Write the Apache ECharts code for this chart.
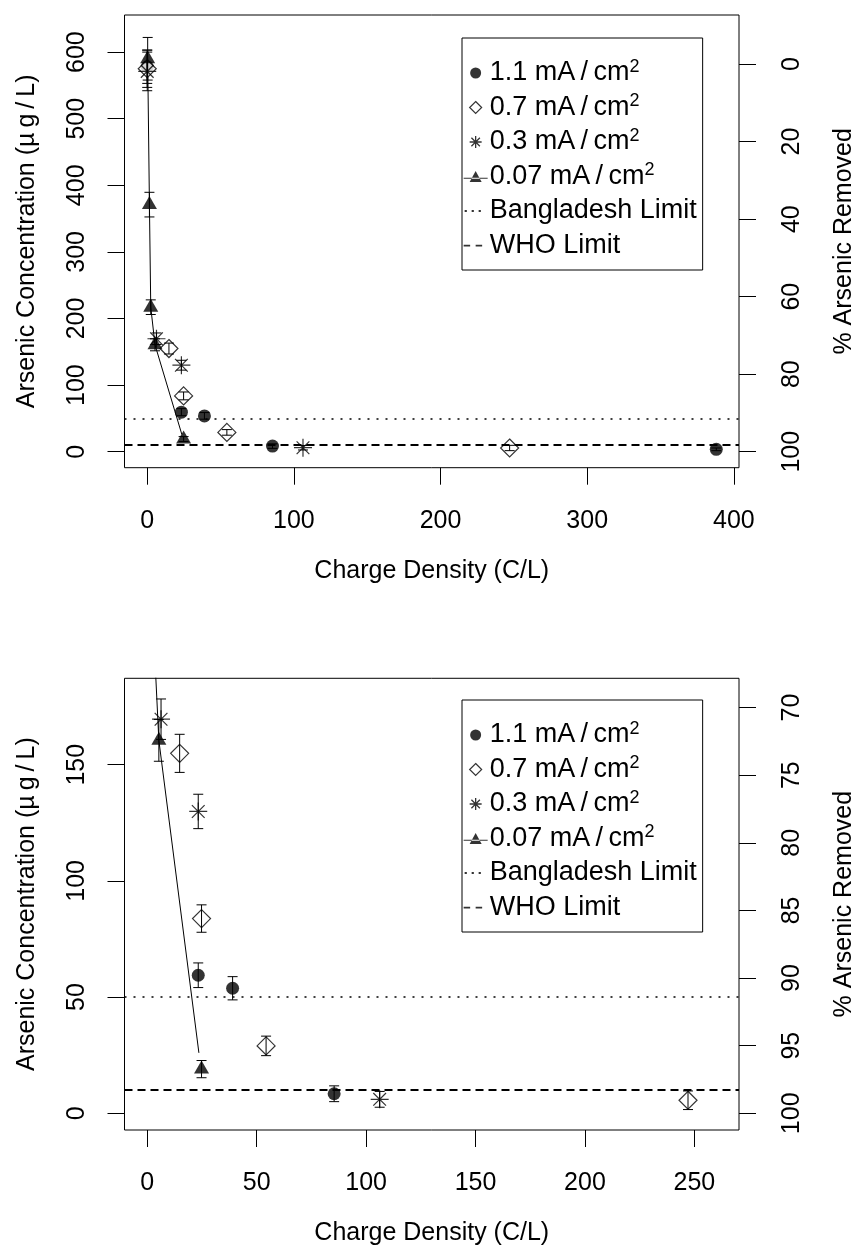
<!DOCTYPE html>
<html><head><meta charset="utf-8">
<script src="https://cdn.jsdelivr.net/npm/echarts@6/dist/echarts.min.js"></script>
<style>html,body{margin:0;padding:0;background:#fff}#c{width:857px;height:1250px}</style>
</head><body><div id="c"></div><script>
// ---------------- data ----------------
const S11 = '1.1 mA\u2009/\u2009cm²';
const S07 = '0.7 mA\u2009/\u2009cm²';
const S03 = '0.3 mA\u2009/\u2009cm²';
const S007 = '0.07 mA\u2009/\u2009cm²';

const cd11_x = [0, 23.3, 39.0, 85.4, 388];
const cd11_y = [578, 59.4, 53.8, 8.4, 3.6];
const cd11_e = [25, 5.3, 5.0, 3.4, 2.0];

const cd07_x = [0, 14.8, 24.8, 54.3, 247.1];
const cd07_y = [575, 154.9, 83.8, 29.0, 5.6];
const cd07_e = [28, 8.2, 5.9, 4.2, 4.0];

const cd03_x = [0, 6.3, 23.3, 106.2];
const cd03_y = [571, 169.6, 129.9, 6.0];
const cd03_e = [29, 8.7, 7.4, 3.4];

const cd007_x = [0.3, 1.5, 2.4, 5.3, 24.8];
const cd007_y = [590, 371, 217, 160.5, 19.0];
const cd007_e = [32, 18.5, 11, 9, 3.7];

const trend007_x = [0.3, 1.5, 2.4, 5.3, 23.6];
const trend007_y = [590, 371, 217, 160.5, 26];

const bangladeshLimit = 50;
const whoLimit = 10;
const initialConc = 582;   // reference for % removed axis

const topXTicks = [0, 100, 200, 300, 400];
const topYTicks = [0, 100, 200, 300, 400, 500, 600];
const topPctTicks = [0, 20, 40, 60, 80, 100];
const botXTicks = [0, 50, 100, 150, 200, 250];
const botYTicks = [0, 50, 100, 150];
const botPctTicks = [70, 75, 80, 85, 90, 95, 100];

// ---------------- styling ----------------
const FF = '"Liberation Sans", Arial, Helvetica, sans-serif';
const FS = 25;
const LFS = 27;
const ASTER = 'path://M0 -1.414L0 1.414M-1.414 0L1.414 0M-1 -1L1 1M-1 1L1 -1';
const B = 'M0 0M24 12';
const CIRC_LEG = 'path://' + B + 'M6.5 6A5.5 5.5 0 1 1 17.5 6A5.5 5.5 0 1 1 6.5 6Z';
const ASTER_LEG = 'path://' + B + 'M12 0L12 12M6 6L18 6M7.76 1.76L16.24 10.24M7.76 10.24L16.24 1.76';
const DIAM_LEG = 'path://' + B + 'M12 0L18 6L12 12L6 6Z';
const TRI_LEG = 'path://' + B + 'M0 7.2L24 7.2L24 8.3L0 8.3Z M6 11.5L18 11.5L12 0.6Z';
const DOT_LEG = 'path://' + B + 'M1 5L3.2 5L3.2 7L1 7Z M8 5L10.2 5L10.2 7L8 7Z M15 5L17.2 5L17.2 7L15 7Z';
const DASH_LEG = 'path://' + B + 'M0 5.2L6.5 5.2L6.5 7L0 7Z M12 5.2L18.5 5.2L18.5 7L12 7Z';

const grids = [
  {left: 124.5, top: 15, width: 614.5, height: 452.7, show: true, borderColor: '#000', borderWidth: 1, outerBoundsMode: 'none'},
  {left: 124.5, top: 678.3, width: 614.5, height: 451.7, show: true, borderColor: '#000', borderWidth: 1, outerBoundsMode: 'none'}
];

function xAxisDef(gi, min, max, ticks) {
  return {type: 'value', gridIndex: gi, min, max, position: 'bottom',
    name: 'Charge Density (C/L)', nameLocation: 'middle', nameGap: 91,
    nameTextStyle: {fontSize: FS, color: '#000', fontFamily: FF},
    axisLine: {show: false, onZero: false}, splitLine: {show: false},
    axisTick: {show: true, inside: false, length: 17, customValues: ticks, lineStyle: {color: '#000', width: 1}},
    axisLabel: {show: true, margin: 41, customValues: ticks, fontSize: FS, color: '#000', fontFamily: FF}
  };
}
function yAxisLeft(gi, min, max, ticks) {
  return {type: 'value', gridIndex: gi, min, max, position: 'left',
    name: 'Arsenic Concentration (\u00b5\u2009g\u2009/\u2009L)', nameLocation: 'middle', nameGap: 85, nameRotate: 90,
    nameTextStyle: {fontSize: FS, color: '#000', fontFamily: FF},
    axisLine: {show: false, onZero: false}, splitLine: {show: false},
    axisTick: {show: true, inside: false, length: 17, customValues: ticks, lineStyle: {color: '#000', width: 1}},
    axisLabel: {show: true, rotate: 90, margin: 35, customValues: ticks, fontSize: FS, color: '#000', fontFamily: FF}
  };
}
function yAxisRight(gi, min, max, pctTicks) {
  const vals = pctTicks.map(p => initialConc * (1 - p / 100));
  return {type: 'value', gridIndex: gi, min, max, position: 'right',
    name: '% Arsenic Removed', nameLocation: 'middle', nameGap: 93, nameRotate: 90,
    nameTextStyle: {fontSize: FS, color: '#000', fontFamily: FF},
    axisLine: {show: false, onZero: false}, splitLine: {show: false},
    axisTick: {show: true, inside: false, length: 17, customValues: vals, lineStyle: {color: '#000', width: 1}},
    axisLabel: {show: true, rotate: 90, margin: 41, customValues: vals, fontSize: FS, color: '#000', fontFamily: FF,
      formatter: v => String(Math.round(100 * (1 - v / initialConc)))}
  };
}

function pts(name, xs, ys, symbol, size, itemStyle, gi, offset) {
  return {type: 'scatter', name, xAxisIndex: gi, yAxisIndex: gi * 2, clip: true, z: 3,
    symbol, symbolSize: size, symbolOffset: offset || [0, 0], itemStyle, silent: true,
    data: xs.map((x, i) => [x, ys[i]])};
}
function errBars(id, xs, ys, es, gi) {
  return {type: 'custom', name: id, xAxisIndex: gi, yAxisIndex: gi * 2, clip: true, z: 4, silent: true,
    data: xs.map((x, i) => [x, ys[i] - es[i], ys[i] + es[i]]),
    encode: {x: 0, y: [1, 2]},
    renderItem: (params, api) => {
      const lo = api.coord([api.value(0), api.value(1)]);
      const hi = api.coord([api.value(0), api.value(2)]);
      const w = 5, st = {stroke: '#000', lineWidth: 1};
      return {type: 'group', children: [
        {type: 'line', shape: {x1: lo[0], y1: lo[1], x2: hi[0], y2: hi[1]}, style: st},
        {type: 'line', shape: {x1: lo[0] - w, y1: lo[1], x2: lo[0] + w, y2: lo[1]}, style: st},
        {type: 'line', shape: {x1: hi[0] - w, y1: hi[1], x2: hi[0] + w, y2: hi[1]}, style: st}
      ]};
    }};
}
function trend(gi) {
  return {type: 'line', name: 'trend', xAxisIndex: gi, yAxisIndex: gi * 2, clip: true, z: 2,
    symbol: 'none', silent: true, lineStyle: {color: '#000', width: 1},
    data: trend007_x.map((x, i) => [x, trend007_y[i]])};
}
function limit(name, val, dash, width, gi) {
  return {type: 'scatter', name, xAxisIndex: gi, yAxisIndex: gi * 2, data: [], itemStyle: {color: '#000'},
    markLine: {silent: true, animation: false, symbol: ['none', 'none'], label: {show: false},
      lineStyle: {color: '#000', width, type: dash}, data: [{yAxis: val}]}};
}

const series = [];
[0, 1].forEach(gi => {
  series.push(limit('Bangladesh Limit', bangladeshLimit, [2, 7], 1.6, gi));
  series.push(limit('WHO Limit', whoLimit, [8, 5], 2, gi));
  series.push(trend(gi));
  series.push(pts(S11, cd11_x, cd11_y, 'circle', 13, {color: '#000'}, gi));
  series.push(pts(S07, cd07_x, cd07_y, 'diamond', 18, {color: '#fff', borderColor: '#000', borderWidth: 1.2}, gi));
  series.push(pts(S03, cd03_x, cd03_y, ASTER, 18, {color: 'rgba(0,0,0,0)', borderColor: '#000', borderWidth: 1.2}, gi));
  series.push(pts(S007, cd007_x, cd007_y, 'triangle', [15, 13], {color: '#000'}, gi, [0, -2]));
  series.push(errBars('e11', cd11_x, cd11_y, cd11_e, gi));
  series.push(errBars('e07', cd07_x, cd07_y, cd07_e, gi));
  series.push(errBars('e03', cd03_x, cd03_y, cd03_e, gi));
  series.push(errBars('e007', cd007_x, cd007_y, cd007_e, gi));
});

// legend sizing
const ctx = document.createElement('canvas').getContext('2d');
ctx.font = LFS + 'px ' + FF;
const maxText = ctx.measureText('Bangladesh Limit').width;
const padR = Math.max(4, 242 - 1 - 24 - 5 - maxText + 1);

const legendItems = [
  {name: S11, icon: CIRC_LEG, itemStyle: {color: '#000', borderWidth: 0}},
  {name: S07, icon: DIAM_LEG, itemStyle: {color: '#fff', borderColor: '#000', borderWidth: 1.2}},
  {name: S03, icon: ASTER_LEG, itemStyle: {color: 'rgba(0,0,0,0)', borderColor: '#000', borderWidth: 1.3}},
  {name: S007, icon: TRI_LEG, itemStyle: {color: '#000', borderWidth: 0}},
  {name: 'Bangladesh Limit', icon: DOT_LEG, itemStyle: {color: '#000', borderWidth: 0}},
  {name: 'WHO Limit', icon: DASH_LEG, itemStyle: {color: '#000', borderWidth: 0}}
];
function legendDef(top) {
  return {show: true, orient: 'vertical', left: 462, top, selectedMode: false, align: 'left',
    padding: [20, padR, 9.5, 1], itemGap: 4.5, itemWidth: 24, itemHeight: 12, symbolKeepAspect: true,
    borderColor: '#000', borderWidth: 1, backgroundColor: '#fff',
    textStyle: {fontSize: LFS, color: '#000', fontFamily: FF, lineHeight: 30, padding: [0, 0, 0, -3],
      rich: {sup: {fontSize: 18, lineHeight: 18, verticalAlign: 'top', color: '#000', fontFamily: FF}}},
    formatter: n => n.replace('²', '{sup|2}'),
    data: legendItems};
}

const option = {
  animation: false,
  backgroundColor: '#fff',
  textStyle: {fontFamily: FF},
  grid: grids,
  xAxis: [xAxisDef(0, -15.5, 403.5, topXTicks), xAxisDef(1, -10.4, 270.4, botXTicks)],
  yAxis: [yAxisLeft(0, -24, 655.7, topYTicks), yAxisRight(0, -24, 655.7, topPctTicks),
          yAxisLeft(1, -7.2, 187.2, botYTicks), yAxisRight(1, -7.2, 187.2, botPctTicks)],
  legend: [legendDef(38), legendDef(700)],
  series
};
const chart = echarts.init(document.getElementById('c'), null, {renderer: 'canvas'});
chart.setOption(option);
</script></body></html>
